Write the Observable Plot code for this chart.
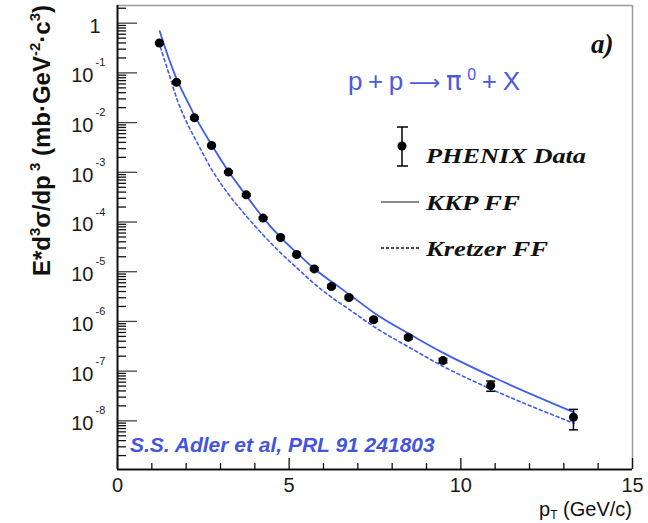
<!DOCTYPE html>
<html>
<head>
<meta charset="utf-8">
<script src="https://cdn.jsdelivr.net/npm/d3@7"></script>
<script src="https://cdn.jsdelivr.net/npm/@observablehq/plot@0.6"></script>
<style>
  body { margin: 0; background: #fff; }
  #chart svg { display: block; }
</style>
</head>
<body>
<div id="chart"></div>
<script>
// PHENIX pi0 invariant cross section in p+p collisions
const pt = [1.22, 1.72, 2.24, 2.74, 3.23, 3.75, 4.24, 4.75, 5.22, 5.73, 6.23, 6.74, 7.46, 8.47, 9.48, 10.87, 13.28];
const xsec = [0.40, 0.065, 0.0125, 3.46e-3, 1.01e-3, 3.52e-4, 1.20e-4, 4.88e-5, 2.22e-5, 1.14e-5, 5.04e-6, 3.03e-6, 1.08e-6, 4.81e-7, 1.63e-7, 5.13e-8, 1.18e-8];
const xsecErr = [0.02, 0.003, 6e-4, 1.7e-4, 5e-5, 1.8e-5, 6e-6, 2.5e-6, 1.2e-6, 6e-7, 3e-7, 2e-7, 8e-8, 4e-8, 1.6e-8, 1.2e-8, 5.2e-9];

// NLO pQCD with KKP fragmentation functions
const kkpPt = [1.23, 1.5, 1.75, 2.0, 2.27, 2.75, 3.25, 3.75, 4.25, 4.75, 5.25, 5.75, 6.25, 6.75, 7.5, 8.5, 9.5, 10.9, 13.3];
const kkp = [0.69, 0.19, 0.068, 0.030, 0.0129, 3.5e-3, 1.0e-3, 3.4e-4, 1.2e-4, 4.9e-5, 2.3e-5, 1.12e-5, 6.2e-6, 3.5e-6, 1.45e-6, 5.6e-7, 2.3e-7, 7.8e-8, 1.48e-8];

// NLO pQCD with Kretzer fragmentation functions
const kretzerPt = [1.25, 1.5, 1.75, 2.0, 2.3, 2.75, 3.25, 3.75, 4.25, 4.75, 5.25, 5.75, 6.25, 6.75, 7.5, 8.5, 9.5, 10.9, 13.3];
const kretzer = [0.33, 0.095, 0.0275, 0.0107, 4.2e-3, 1.12e-3, 3.5e-4, 1.32e-4, 5.4e-5, 2.4e-5, 1.15e-5, 5.6e-6, 3.0e-6, 1.74e-6, 7.6e-7, 3.0e-7, 1.23e-7, 4.3e-8, 8.9e-9];

// axis ticks and labels
const xDomain = [0, 15];
const yDomain = [1.05e-9, 2.27];
const xLabels = [0, 5, 10, 15];
const xMinor = [1, 2, 3, 4, 6, 7, 8, 9, 11, 12, 13, 14];
const yExponents = [0, -1, -2, -3, -4, -5, -6, -7, -8];

const points = pt.map((x, i) => ({x, y: xsec[i], lo: xsec[i] - xsecErr[i], hi: xsec[i] + xsecErr[i]}));
const kkpLine = kkpPt.map((x, i) => ({x, y: kkp[i]}));
const kretzerLine = kretzerPt.map((x, i) => ({x, y: kretzer[i]}));
const yMajor = yExponents.map(e => 10 ** e);
const yMinor = [];
for (let e = -9; e <= 0; e++) for (let k = 2; k <= 9; k++) {
  const v = k * 10 ** e;
  if (v > yDomain[0] && v < yDomain[1]) yMinor.push(v);
}

const W = 648, H = 523;
const M = {left: 117, right: 16, top: 5, bottom: 54};
const frameW = W - M.left - M.right;
const frameH = H - M.top - M.bottom;

// horizontal cap used for the error bars (half-length = r)
const capH = {draw(ctx, size) { const r = Math.sqrt(size / Math.PI); ctx.moveTo(-r, 0); ctx.lineTo(r, 0); }};

const blue = "#3f5cf0";
const sans = "Liberation Sans, Arial, sans-serif";
const serif = "Liberation Serif, Times New Roman, serif";

const chart = Plot.plot({
  width: W,
  height: H,
  marginLeft: M.left,
  marginRight: M.right,
  marginTop: M.top,
  marginBottom: M.bottom,
  style: {fontFamily: "sans-serif", background: "#fff", color: "#111"},
  x: {domain: xDomain, axis: null},
  y: {type: "log", domain: yDomain, axis: null},
  marks: [
    // frame: grey top/right
    Plot.ruleY([yDomain[1]], {stroke: "#9a9a9a", strokeWidth: 1.5}),
    Plot.ruleX([xDomain[1]], {stroke: "#9a9a9a", strokeWidth: 1.5}),
    // inward ticks on the y axis
    Plot.tickY(yMajor, {y: d => d, insetRight: frameW - 20, stroke: "#444", strokeWidth: 1.3}),
    Plot.tickY(yMinor, {y: d => d, insetRight: frameW - 9, stroke: "#111", strokeWidth: 1.3}),
    // inward ticks on the x axis
    Plot.tickX(xLabels, {x: d => d, insetTop: frameH - 11, stroke: "#111", strokeWidth: 1.3}),
    Plot.tickX(xMinor, {x: d => d, insetTop: frameH - 6, stroke: "#111", strokeWidth: 1.3}),
    // black axis lines
    Plot.ruleX([xDomain[0]], {stroke: "#111", strokeWidth: 2}),
    Plot.ruleY([yDomain[0]], {stroke: "#111", strokeWidth: 2}),
    // theory curves
    Plot.line(kretzerLine, {x: "x", y: "y", stroke: blue, strokeWidth: 1.6, strokeDasharray: "3,3", curve: "monotone-x"}),
    Plot.line(kkpLine, {x: "x", y: "y", stroke: blue, strokeWidth: 1.8, curve: "monotone-x"}),
    // data with error bars
    Plot.ruleX(points, {x: "x", y1: "lo", y2: "hi", stroke: "#000", strokeWidth: 1.5}),
    Plot.dot(points, {x: "x", y: "lo", symbol: capH, r: 4.5, fill: "none", stroke: "#000", strokeWidth: 1.5}),
    Plot.dot(points, {x: "x", y: "hi", symbol: capH, r: 4.5, fill: "none", stroke: "#000", strokeWidth: 1.5}),
    Plot.dot(points, {x: "x", y: "y", r: 4.5, fill: "#000"}),
    // y tick labels: "1", then 10 with exponent
    Plot.text(yMajor.filter(d => d === 1), {frameAnchor: "left", y: d => d, text: () => "1", textAnchor: "end", dx: -17, dy: 3, fontSize: 20, fontFamily: sans, fill: "#1a1a1a"}),
    Plot.text(yExponents.filter(e => e < 0), {frameAnchor: "left", y: e => 10 ** e, text: () => "10", textAnchor: "end", dx: -24, dy: 3, fontSize: 20, fontFamily: sans, fill: "#1a1a1a"}),
    Plot.text(yExponents.filter(e => e < 0), {frameAnchor: "left", y: e => 10 ** e, text: e => `-${-e}`, textAnchor: "start", dx: -22, dy: -10, fontSize: 11, fontFamily: sans, fill: "#1a1a1a"}),
    // x tick labels
    Plot.text(xLabels, {frameAnchor: "bottom", x: d => d, text: d => String(d), lineAnchor: "top", dy: 8, fontSize: 20, fontFamily: sans, fill: "#1a1a1a"})
  ]
});

document.getElementById("chart").appendChild(chart);
const svg = d3.select(chart);

// y-axis title with superscripts
const yTitle = svg.append("text")
  .attr("transform", "translate(50,5) rotate(-90)")
  .attr("text-anchor", "end")
  .attr("font-family", sans)
  .attr("font-weight", "bold")
  .attr("font-size", 24)
  .attr("fill", "#111");
const titleParts = [["E*d", false], ["3", true], ["σ/dp", false], [" 3", true], [" (mb·GeV", false], ["-2", true], ["·c", false], ["3", true], [")", false]];
let raised = false;
for (const [t, sup] of titleParts) {
  const ts = yTitle.append("tspan").text(t);
  if (sup) { ts.attr("font-size", 15); if (!raised) { ts.attr("dy", -10); raised = true; } }
  else { ts.attr("font-size", 24); if (raised) { ts.attr("dy", 10); raised = false; } }
}

// x-axis title p_T (GeV/c)
const xTitle = svg.append("text")
  .attr("x", 632).attr("y", 516)
  .attr("text-anchor", "end")
  .attr("font-family", sans)
  .attr("font-size", 20)
  .attr("fill", "#111");
xTitle.append("tspan").text("p");
xTitle.append("tspan").text("T").attr("font-size", 12).attr("dy", 3);
xTitle.append("tspan").text(" (GeV/c)").attr("dy", -3);

// reaction label
const reaction = svg.append("text")
  .attr("x", 348).attr("y", 90)
  .attr("text-anchor", "start")
  .attr("textLength", 172).attr("lengthAdjust", "spacing")
  .attr("font-family", sans)
  .attr("font-size", 26)
  .attr("fill", "#4a5ae0");
reaction.append("tspan").text("p+p");
reaction.append("tspan").text("⟶").attr("font-family", "DejaVu Sans, sans-serif").attr("font-size", 22);
reaction.append("tspan").text("π").attr("font-family", "DejaVu Sans, sans-serif");
reaction.append("tspan").text("0").attr("font-size", 16).attr("dy", -10);
reaction.append("tspan").text("+X").attr("dy", 10);

// panel tag
svg.append("text")
  .attr("x", 591).attr("y", 53)
  .attr("text-anchor", "start")
  .attr("font-family", serif)
  .attr("font-weight", "bold").attr("font-style", "italic")
  .attr("font-size", 27)
  .attr("fill", "#111")
  .text("a)");

// legend
const leg = svg.append("g");
leg.append("line").attr("x1", 402).attr("x2", 402).attr("y1", 127).attr("y2", 166).attr("stroke", "#000").attr("stroke-width", 1.5);
leg.append("line").attr("x1", 397).attr("x2", 408).attr("y1", 127).attr("y2", 127).attr("stroke", "#000").attr("stroke-width", 1.5);
leg.append("line").attr("x1", 397).attr("x2", 408).attr("y1", 166).attr("y2", 166).attr("stroke", "#000").attr("stroke-width", 1.5);
leg.append("circle").attr("cx", 402).attr("cy", 146).attr("r", 4.5).attr("fill", "#000");
leg.append("line").attr("x1", 381).attr("x2", 419).attr("y1", 202).attr("y2", 202).attr("stroke", "#8a8a8a").attr("stroke-width", 2);
leg.append("line").attr("x1", 381).attr("x2", 419).attr("y1", 248).attr("y2", 248).attr("stroke", "#111").attr("stroke-width", 1.5).attr("stroke-dasharray", "3,2");
const legTexts = [["PHENIX Data", 163, 160], ["KKP FF", 210, 94], ["Kretzer FF", 256, 122]];
for (const [t, y, w] of legTexts) {
  leg.append("text").attr("x", 426).attr("y", y)
    .attr("text-anchor", "start")
    .attr("textLength", w).attr("lengthAdjust", "spacingAndGlyphs")
    .attr("font-family", serif).attr("font-weight", "bold").attr("font-style", "italic")
    .attr("font-size", 22).attr("fill", "#111").text(t);
}

// reference caption
svg.append("text")
  .attr("x", 130).attr("y", 452)
  .attr("text-anchor", "start")
  .attr("font-family", sans)
  .attr("font-weight", "bold").attr("font-style", "italic")
  .attr("font-size", 21)
  .attr("fill", "#4455dd")
  .text("S.S. Adler et al, PRL 91 241803");
</script>
</body>
</html>
